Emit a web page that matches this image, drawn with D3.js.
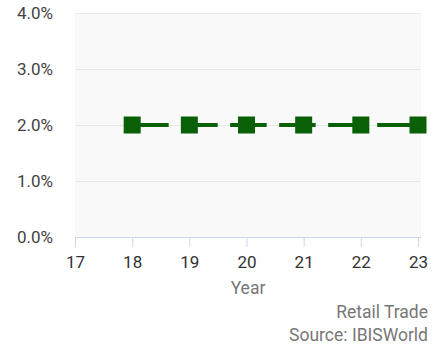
<!DOCTYPE html>
<html>
<head>
<meta charset="utf-8">
<script src="https://cdn.jsdelivr.net/npm/d3@7"></script>
<style>
  html, body { margin: 0; padding: 0; background: #ffffff; }
  svg { display: block; font-family: Roboto, "Noto Sans", sans-serif; }
</style>
</head>
<body>
<svg id="chart" width="446" height="347"></svg>
<script>
// Annual growth values by year
const years = [18, 19, 20, 21, 22, 23];
const growth = [2.0, 2.0, 2.0, 2.0, 2.0, 2.0];
const xTicks = [17, 18, 19, 20, 21, 22, 23];
const yTicks = [0, 1, 2, 3, 4];
const xTitle = "Year";
const credits = ["Retail Trade", "Source: IBISWorld"];

const svg = d3.select("#chart");
const plot = { left: 75, right: 421, top: 13, bottom: 237 };

const x = d3.scaleLinear().domain([17, 23]).range([75, 418]);
const y = d3.scaleLinear().domain([0, 4]).range([plot.bottom, plot.top]);

// plot background
svg.append("rect")
  .attr("x", plot.left).attr("y", plot.top)
  .attr("width", plot.right - plot.left).attr("height", plot.bottom - plot.top)
  .attr("fill", "#f9f9f9");

// horizontal grid
svg.append("g").selectAll("line").data(yTicks.filter(d => d > 0)).join("line")
  .attr("x1", plot.left).attr("x2", plot.right)
  .attr("y1", d => y(d) + 0.5).attr("y2", d => y(d) + 0.5)
  .attr("stroke", "#e8e8e8").attr("stroke-width", 1);

// y axis labels
svg.append("g").selectAll("text").data(yTicks).join("text")
  .attr("x", 53).attr("y", d => y(d) + 6)
  .attr("text-anchor", "end")
  .attr("font-size", 17).attr("fill", "#444")
  .text(d => d3.format(".1f")(d) + "%");

// x axis
const xAxis = svg.append("g").attr("transform", `translate(0,${plot.bottom})`)
  .call(d3.axisBottom(x).tickValues(xTicks).tickSize(10).tickPadding(9).tickFormat(d => d));
xAxis.select(".domain").attr("stroke", "#ccd6eb").attr("d", `M${plot.left},0.5H${plot.right}`);
xAxis.selectAll(".tick line").attr("stroke", "#ccd6eb");
xAxis.selectAll(".tick text").attr("font-size", 17).attr("fill", "#333")
  .attr("font-family", "Roboto, sans-serif");

// axis title
svg.append("text")
  .attr("x", (plot.left + plot.right) / 2).attr("y", 294)
  .attr("text-anchor", "middle").attr("font-size", 17.5).attr("fill", "#777")
  .text(xTitle);

// credits
svg.append("g").selectAll("text").data(credits).join("text")
  .attr("x", 428).attr("y", (d, i) => 317.5 + i * 23)
  .attr("text-anchor", "end").attr("font-size", 17.5).attr("fill", "#777")
  .text(d => d);

// dashed series line
const color = "#0a6006";
const line = d3.line().x((d, i) => x(years[i])).y(d => y(d));
svg.append("path")
  .datum(growth)
  .attr("d", line)
  .attr("fill", "none").attr("stroke", color)
  .attr("stroke-width", 4)
  .attr("stroke-dasharray", "36.5,12.5");

// square markers
const s = 17;
svg.append("g").selectAll("rect").data(growth).join("rect")
  .attr("x", (d, i) => x(years[i]) - s / 2)
  .attr("y", d => y(d) - s / 2)
  .attr("width", s).attr("height", s)
  .attr("fill", color);
</script>
</body>
</html>
